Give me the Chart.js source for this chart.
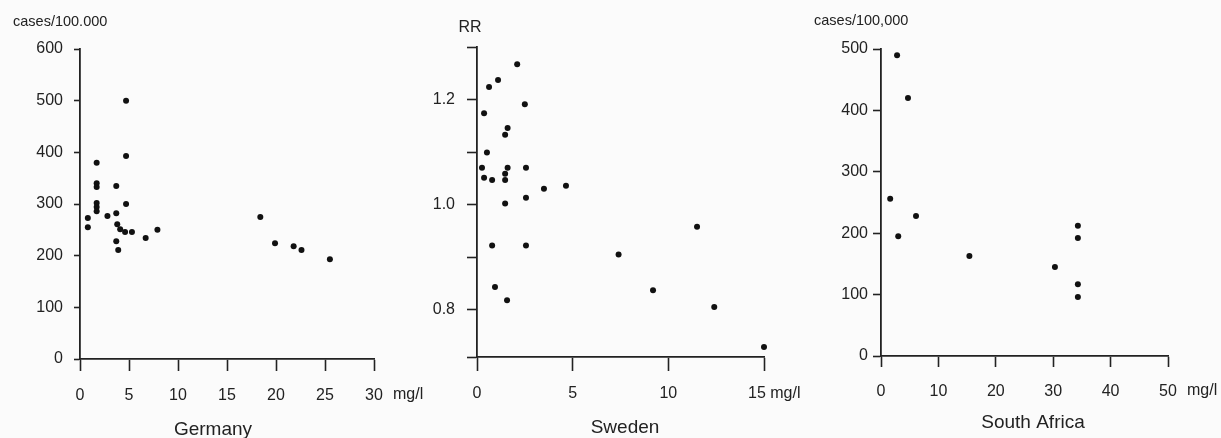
<!DOCTYPE html>
<html>
<head>
<meta charset="utf-8">
<script src="https://cdn.jsdelivr.net/npm/chart.js@4.4.0/dist/chart.umd.min.js"></script>
<style>
  body{margin:0;background:#fbfbfb;width:1221px;height:438px;overflow:hidden;position:relative;}
  canvas{position:absolute;top:0;}
</style>
</head>
<body>
<canvas id="germany" style="left:0px" width="440" height="438"></canvas>
<canvas id="sweden" style="left:420px" width="401" height="438"></canvas>
<canvas id="safrica" style="left:810px" width="411" height="438"></canvas>
<script>
// Germany: fluoride (mg/l) vs cases/100.000
const germanyX = [4.7,4.7,1.7,1.7,1.7,3.7,1.7,1.7,1.7,4.7,3.7,2.8,0.8,0.8,3.8,4.1,4.6,5.3,6.7,7.9,3.7,3.9,18.4,19.9,21.8,22.6,25.5];
const germanyY = [500,393,380,340,333,335,302,294,286,300,282,277,273,255,261,251,246,246,234,250,228,211,275,224,218,211,193];
const germanyXTicks = [0,5,10,15,20,25,30];
const germanyXLabels = ['0','5','10','15','20','25','30'];
const germanyYTicks = [0,100,200,300,400,500,600];

// Sweden: fluoride (mg/l) vs RR
const swedenX = [2.1,1.1,0.63,2.5,0.37,1.6,1.47,0.52,0.26,1.6,2.56,1.47,0.37,0.79,1.47,3.5,4.65,2.56,1.47,11.5,0.79,2.56,7.4,0.94,9.2,1.57,12.4,15.0];
const swedenY = [1.267,1.237,1.224,1.191,1.174,1.146,1.133,1.099,1.07,1.07,1.07,1.059,1.051,1.047,1.047,1.03,1.036,1.013,1.002,0.958,0.922,0.922,0.905,0.843,0.837,0.818,0.805,0.729];
const swedenXTicks = [0,5,10,15];
const swedenXLabels = ['0','5','10',''];
const swedenYTicks = [0.71,0.8,0.9,1.0,1.1,1.2,1.3];
const swedenYLabels = ['','0.8','','1.0','','1.2',''];

// South Africa: fluoride (mg/l) vs cases/100,000
const safricaX = [2.8,4.7,1.6,6.1,3.0,15.4,30.3,34.3,34.3,34.3,34.3];
const safricaY = [490,420,256,228,195,163,145,212,192,117,96];
const safricaXTicks = [0,10,20,30,40,50];
const safricaXLabels = ['0','10','20','30','40','50'];
const safricaYTicks = [0,100,200,300,400,500];

const ink = '#222';
const font = 'Liberation Sans';

// Beschriftungen: Einheit oben, mg/l am Ende der x-Achse, Landesname unten
const notesPlugin = {
  id:'notes',
  afterDraw(chart, args, o){
    const ctx = chart.ctx;
    const xs = chart.scales.x;
    ctx.save();
    ctx.fillStyle = ink;
    ctx.textBaseline = 'middle';
    ctx.font = o.unitSize + 'px "' + font + '"';
    ctx.textAlign = o.unitAlign;
    ctx.fillText(o.unit, o.ux, o.uy);
    ctx.font = '16px "' + font + '"';
    ctx.textAlign = 'left';
    ctx.fillText(o.mgText, xs.getPixelForValue(xs.max) + o.mgGap, o.mgY);
    ctx.font = '19px "' + font + '"';
    ctx.textAlign = 'center';
    ctx.textBaseline = 'alphabetic';
    ctx.fillText(o.name, o.nx, o.ny);
    ctx.restore();
  }
};

function makeChart(id, c){
  const pts = c.xs.map((x,i)=>({x:x, y:c.ys[i]}));
  return new Chart(document.getElementById(id), {
    type:'scatter',
    data:{datasets:[{data:pts, pointRadius:3, pointBackgroundColor:'#111', pointBorderWidth:0, clip:false}]},
    options:{
      responsive:false, animation:false, devicePixelRatio:1, events:[],
      layout:{padding:{left:0, right:c.padRight, top:c.padTop, bottom:0}},
      plugins:{legend:{display:false}, tooltip:{enabled:false}, notes:c.notes},
      scales:{
        x:{
          type:'linear', min:c.xTicks[0], max:c.xTicks[c.xTicks.length-1],
          afterBuildTicks:s=>{ s.ticks = c.xTicks.map(v=>({value:v})); },
          afterFit:s=>{ s.height = c.xH; },
          grid:{drawOnChartArea:false, drawTicks:true, tickLength:c.xTickLen, tickColor:ink, tickWidth:1.6},
          border:{color:ink, width:1.8},
          ticks:{padding:c.xPad, color:ink, font:{family:font, size:16}, maxRotation:0,
                 callback:(v,i)=>c.xLabels[i]}
        },
        y:{
          type:'linear', min:c.yMin, max:c.yMax,
          afterBuildTicks:s=>{ s.ticks = c.yTicks.map(v=>({value:v})); },
          afterFit:s=>{ s.width = c.yW; },
          grid:{drawOnChartArea:false, drawTicks:true, tickLength:c.yTickLen, tickColor:ink, tickWidth:1.6},
          border:{color:ink, width:1.8},
          ticks:{padding:c.yPad, color:ink, font:{family:font, size:16},
                 callback:(v,i)=>c.yLabels ? c.yLabels[i] : String(v)}
        }
      }
    },
    plugins:[notesPlugin]
  });
}

makeChart('germany', {
  xs:germanyX, ys:germanyY, xTicks:germanyXTicks, xLabels:germanyXLabels, yTicks:germanyYTicks,
  yMin:0, yMax:600, yW:80, xH:79, padTop:49, padRight:66,
  xTickLen:12, xPad:15, yTickLen:6, yPad:11,
  notes:{unit:'cases/100.000', unitSize:14.5, unitAlign:'left', ux:13, uy:22,
         mgText:'mg/l', mgGap:19, mgY:395, name:'Germany', nx:213, ny:435}
});

makeChart('sweden', {
  xs:swedenX, ys:swedenY, xTicks:swedenXTicks, xLabels:swedenXLabels, yTicks:swedenYTicks, yLabels:swedenYLabels,
  yMin:0.71, yMax:1.3, yW:57, xH:81, padTop:47, padRight:57,
  xTickLen:14, xPad:13, yTickLen:10, yPad:12,
  notes:{unit:'RR', unitSize:16, unitAlign:'center', ux:50, uy:28,
         mgText:'15 mg/l', mgGap:-16, mgY:394, name:'Sweden', nx:205, ny:433}
});

makeChart('safrica', {
  xs:safricaX, ys:safricaY, xTicks:safricaXTicks, xLabels:safricaXLabels, yTicks:safricaYTicks,
  yMin:0, yMax:500, yW:71, xH:82, padTop:49, padRight:53,
  xTickLen:11, xPad:15, yTickLen:8, yPad:5,
  notes:{unit:'cases/100,000', unitSize:14.5, unitAlign:'left', ux:4, uy:21,
         mgText:'mg/l', mgGap:19, mgY:391, name:'South Africa', nx:223, ny:428}
});
</script>
</body>
</html>
